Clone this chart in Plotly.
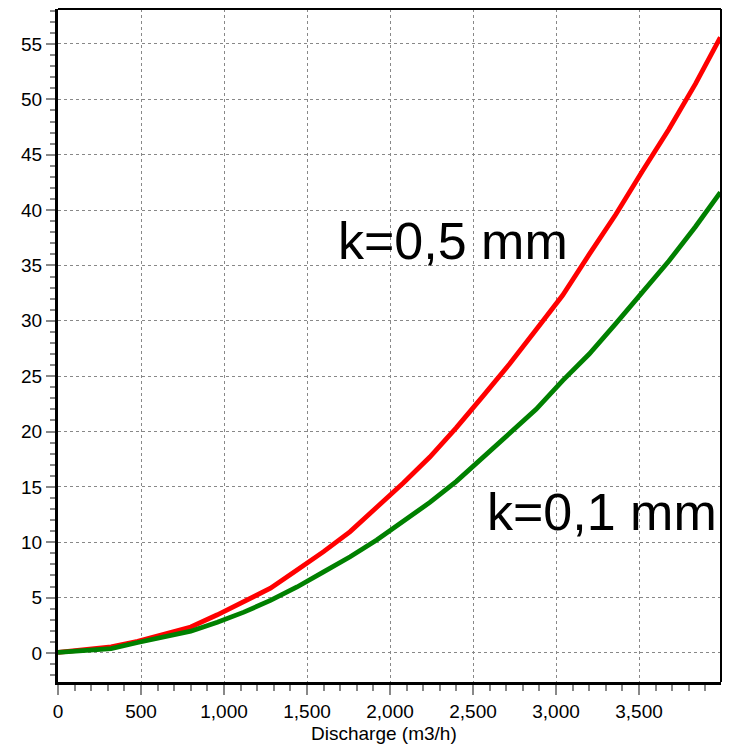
import plotly.graph_objects as go

# Data
discharge = [0, 160, 320, 480, 640, 800, 960, 1120, 1280, 1440, 1600, 1760, 1920, 2080,
             2240, 2400, 2560, 2720, 2880, 3040, 3200, 3360, 3520, 3680, 3840, 3990]
k05_values = [0.05, 0.25, 0.55, 1.05, 1.65, 2.35, 3.45, 4.6, 5.85, 7.5, 9.15, 10.96, 13.1, 15.36,
              17.7, 20.35, 23.2, 26.1, 29.2, 32.3, 36.0, 39.6, 43.5, 47.3, 51.4, 55.6]
k01_values = [0.05, 0.2, 0.4, 0.95, 1.45, 1.97, 2.78, 3.69, 4.75, 5.96, 7.33, 8.69, 10.2, 11.87,
              13.6, 15.5, 17.7, 19.85, 22.0, 24.6, 27.0, 29.75, 32.6, 35.4, 38.5, 41.6]

x_tick_vals = [0, 500, 1000, 1500, 2000, 2500, 3000, 3500]
x_tick_text = ["0", "500", "1,000", "1,500", "2,000", "2,500", "3,000", "3,500"]
y_tick_vals = [0, 5, 10, 15, 20, 25, 30, 35, 40, 45, 50, 55]
y_tick_text = [str(v) for v in y_tick_vals]

label_k05 = "k=0,5 mm"
label_k01 = "k=0,1 mm"
x_title = "Discharge (m3/h)"

FONT = "Liberation Sans, Arial, sans-serif"

fig = go.Figure()
fig.add_trace(go.Scatter(x=discharge, y=k05_values, mode="lines",
                         line=dict(color="#ff0000", width=4.8), showlegend=False))
fig.add_trace(go.Scatter(x=discharge, y=k01_values, mode="lines",
                         line=dict(color="#008000", width=4.8), showlegend=False))

fig.add_annotation(x=2380, y=37.2, xref="x", yref="y", text=label_k05, showarrow=False,
                   font=dict(family=FONT, size=52, color="black"), xanchor="center", yanchor="middle")
fig.add_annotation(x=3275, y=12.7, xref="x", yref="y", text=label_k01, showarrow=False,
                   font=dict(family=FONT, size=52, color="black"), xanchor="center", yanchor="middle")

fig.add_annotation(x=0.492, y=-0.0758, xref="paper", yref="paper", text=x_title, showarrow=False,
                   font=dict(family=FONT, size=19, color="black"), xanchor="center", yanchor="middle")

# top and right thin frame lines
fig.add_shape(type="line", xref="paper", yref="paper", x0=0, x1=1, y0=1, y1=1,
              line=dict(color="black", width=2))
fig.add_shape(type="line", xref="paper", yref="paper", x0=1, x1=1, y0=0, y1=1,
              line=dict(color="black", width=2))

fig.update_layout(
    width=717, height=738,
    margin=dict(l=50, r=4, t=1, b=64),
    paper_bgcolor="white", plot_bgcolor="white",
    font=dict(family=FONT, size=19, color="black"),
    xaxis=dict(
        range=[0, 3994], tickmode="array", tickvals=x_tick_vals, ticktext=x_tick_text,
        ticks="outside", ticklen=10, tickwidth=1.5, tickcolor="#888888",
        showline=True, linecolor="black", linewidth=3,
        showgrid=True, gridcolor="#888888", gridwidth=1, griddash="dot",
        zeroline=False, automargin=False,
        minor=dict(dtick=100, tick0=0, ticks="outside", ticklen=6, tickcolor="#888888",
                   tickwidth=1.5, showgrid=False),
        tickfont=dict(size=19),
    ),
    yaxis=dict(
        range=[-2.62, 58.16], tickmode="array", tickvals=y_tick_vals, ticktext=y_tick_text,
        ticks="outside", ticklen=9, tickwidth=1.5, tickcolor="#888888",
        showline=True, linecolor="black", linewidth=3,
        showgrid=True, gridcolor="#888888", gridwidth=1, griddash="dot",
        zeroline=False, automargin=False,
        minor=dict(dtick=1, tick0=0, ticks="outside", ticklen=5, tickcolor="#888888",
                   tickwidth=1.5, showgrid=False),
        tickfont=dict(size=19),
    ),
)

fig.write_html("out.html")
